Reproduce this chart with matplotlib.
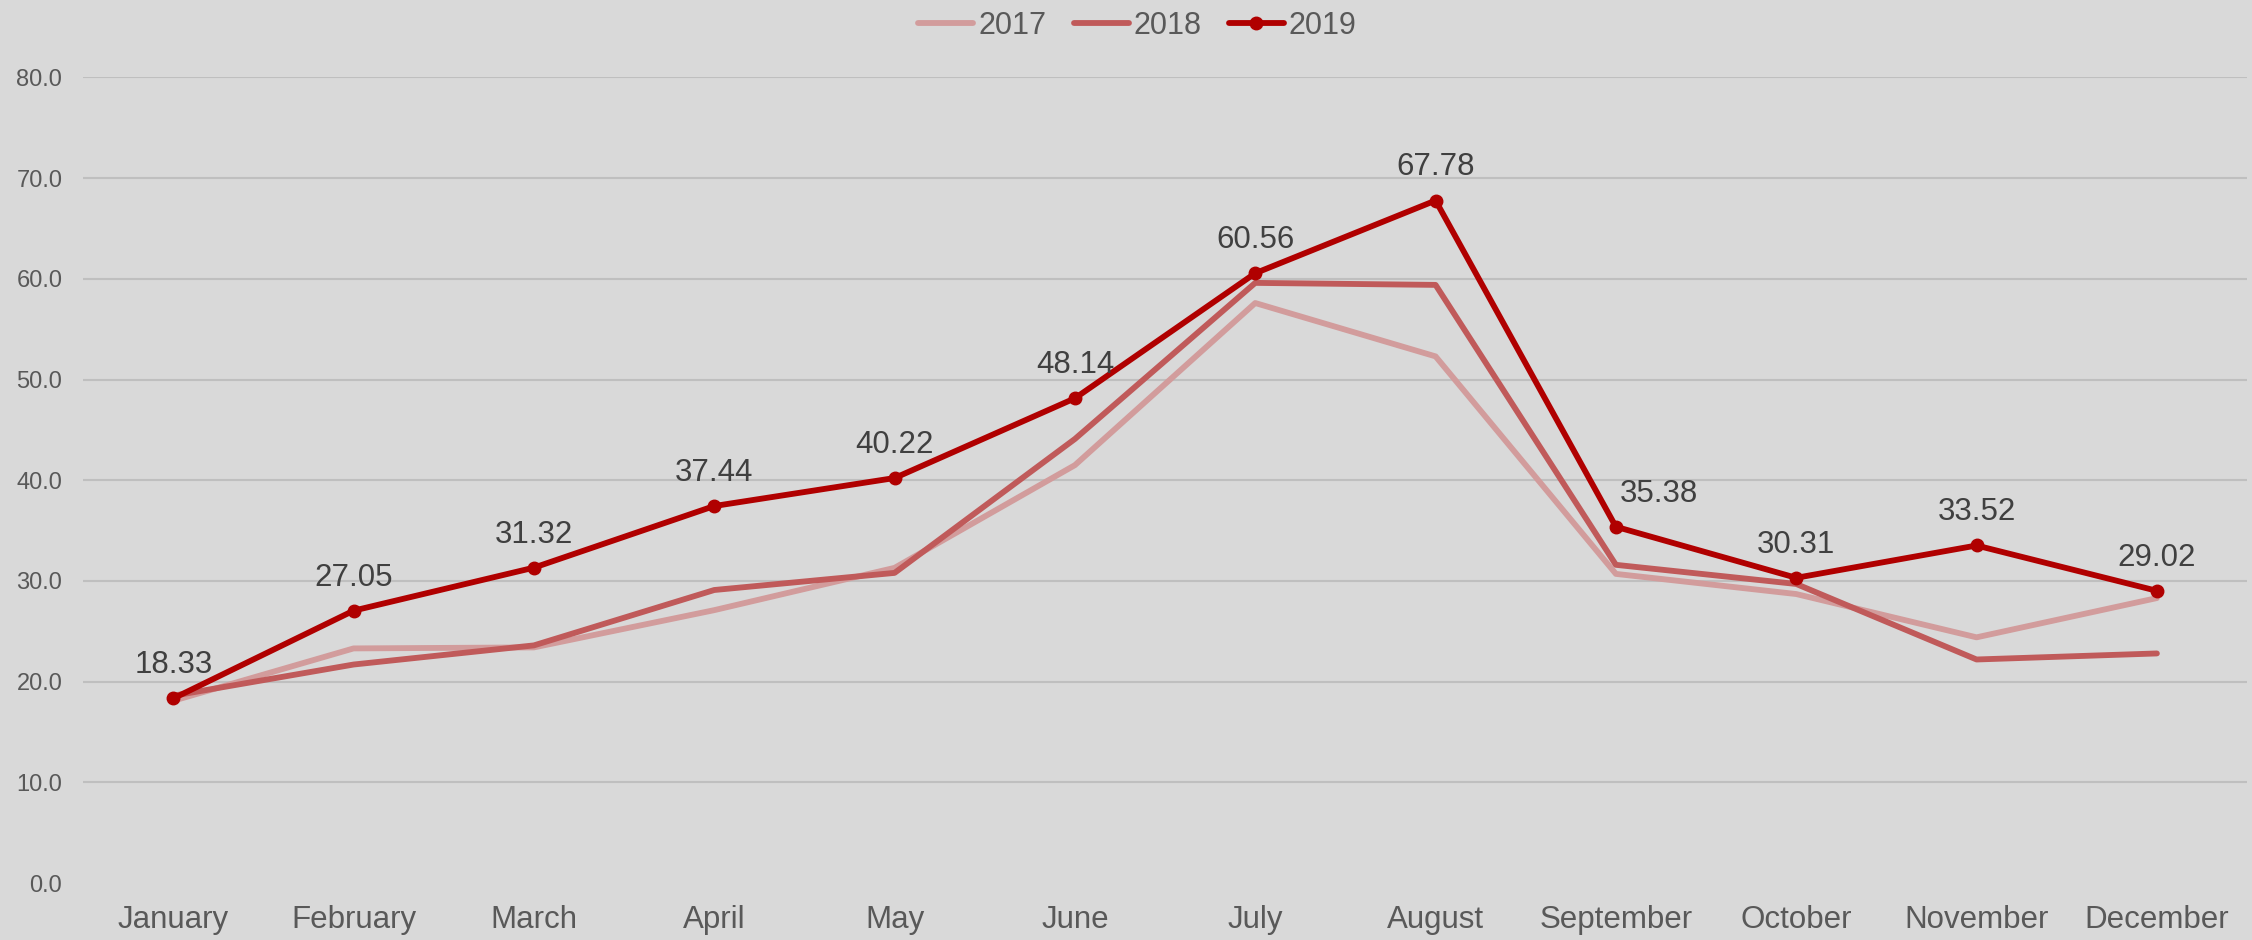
import matplotlib.pyplot as plt

months = ['January', 'February', 'March', 'April', 'May', 'June', 'July',
          'August', 'September', 'October', 'November', 'December']
y2017 = [18.1, 23.3, 23.4, 27.1, 31.3, 41.5, 57.6, 52.3, 30.7, 28.7, 24.4, 28.3]
y2018 = [18.6, 21.7, 23.6, 29.1, 30.8, 44.1, 59.6, 59.4, 31.6, 29.7, 22.2, 22.8]
y2019 = [18.33, 27.05, 31.32, 37.44, 40.22, 48.14, 60.56, 67.78, 35.38, 30.31, 33.52, 29.02]
yticks = [0, 10, 20, 30, 40, 50, 60, 70, 80]

plt.rcParams['font.family'] = ['Liberation Sans', 'DejaVu Sans']
bg = '#d9d9d9'

fig = plt.figure(figsize=(22.52, 9.4), dpi=100, facecolor=bg)
ax = fig.add_axes([0.0369, 0.0606, 0.9609, 0.857], facecolor=bg)

x = list(range(len(months)))
ax.plot(x, y2017, color='#d29c9c', lw=4.2, label='2017', solid_capstyle='round')
ax.plot(x, y2018, color='#c05a5a', lw=4.2, label='2018', solid_capstyle='round')
ax.plot(x, y2019, color='#b00000', lw=4.2, marker='o', markersize=9, label='2019',
        solid_capstyle='round')

# data labels above the 2019 points (September one is nudged right like the original)
for i, v in enumerate(y2019):
    dx = 31 if months[i] == 'September' else 0
    ax.annotate('%.2f' % v, (i, v), xytext=(dx, 13), textcoords='offset points',
                ha='center', va='bottom', fontsize=22.5, color='#404040')

ax.set_xlim(-0.5, len(months) - 0.5)
ax.set_ylim(0, 80)
ax.set_xticks(x)
ax.set_xticklabels(months, fontsize=22.5, color='#595959')
ax.set_yticks(yticks)
ax.set_yticklabels(['%.1f' % t for t in yticks], fontsize=17, color='#595959')
ax.tick_params(axis='both', length=0)
ax.tick_params(axis='y', pad=15)
ax.tick_params(axis='x', pad=16)

ax.grid(axis='y', color='#bfbfbf', lw=1.5)
ax.get_ygridlines()[0].set_visible(False)
ax.set_axisbelow(True)
for s in ax.spines.values():
    s.set_visible(False)

fig.legend(loc='upper center', bbox_to_anchor=(0.505, 1.018), ncol=3, frameon=False,
           fontsize=22, handlelength=1.8, handletextpad=0.15, columnspacing=0.9,
           labelcolor='#595959')

fig.savefig('out.png', dpi=100, facecolor=bg)
